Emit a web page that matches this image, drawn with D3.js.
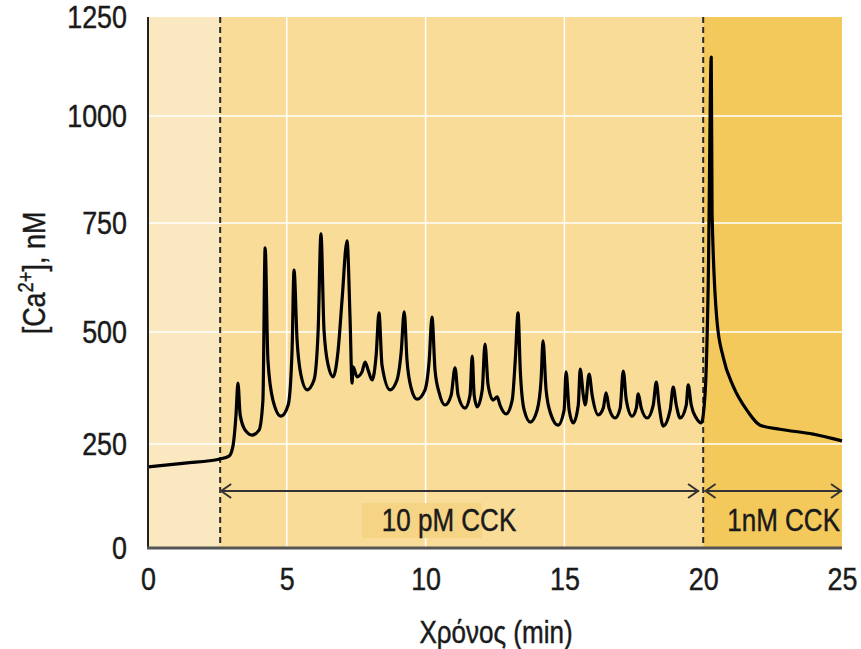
<!DOCTYPE html>
<html>
<head>
<meta charset="utf-8">
<script src="https://cdn.jsdelivr.net/npm/d3@7"></script>
<style>
  body { margin: 0; background: #fff; }
  svg text { font-family: 'Liberation Sans', Arial, sans-serif; fill: #1a1a1a; stroke: #1a1a1a; stroke-width: 0.45px; }
</style>
</head>
<body>
<div id="chart"></div>
<script>
// time (min) and [Ca2+] (nM)
const timeMin = [
    0, 1.33, 2.59, 2.92, 3.06, 3.17, 3.24, 3.32, 3.5, 3.75,
    4.0, 4.14, 4.22, 4.32, 4.5, 4.79, 5.05, 5.19, 5.26, 5.37,
    5.51, 5.73, 5.98, 6.13, 6.23, 6.34, 6.49, 6.67, 6.85, 6.99,
    7.17, 7.28, 7.35, 7.39, 7.53, 7.71, 7.82, 7.93, 8.07, 8.22,
    8.32, 8.43, 8.72, 8.97, 9.12, 9.23, 9.33, 9.48, 9.69, 9.98,
    10.13, 10.23, 10.34, 10.49, 10.7, 10.92, 11.06, 11.17, 11.42, 11.6,
    11.68, 11.75, 11.86, 12.04, 12.14, 12.25, 12.43, 12.58, 12.68, 12.9,
    13.12, 13.23, 13.33, 13.41, 13.55, 13.77, 14.02, 14.16, 14.23, 14.34,
    14.52, 14.77, 14.99, 15.06, 15.17, 15.32, 15.5, 15.57, 15.68, 15.75,
    15.89, 16.0, 16.22, 16.4, 16.5, 16.61, 16.83, 17.01, 17.12, 17.23,
    17.44, 17.59, 17.66, 17.77, 17.98, 18.2, 18.31, 18.41, 18.56, 18.81,
    18.92, 19.03, 19.17, 19.39, 19.46, 19.57, 19.75, 19.93, 20.07, 20.18,
    20.29, 20.32, 20.5, 20.72, 21.08, 21.59, 22.05, 22.77, 23.96, 25.0
];
const caNM = [
    195, 204, 214, 221, 245, 315, 386, 315, 281, 270,
    281, 348, 693, 437, 348, 312, 337, 460, 642, 482,
    404, 371, 393, 505, 725, 505, 426, 400, 460, 573,
    709, 528, 386, 422, 400, 411, 433, 415, 393, 449,
    544, 426, 371, 393, 455, 546, 437, 375, 350, 371,
    437, 534, 415, 364, 337, 359, 420, 359, 330, 359,
    446, 359, 333, 371, 473, 382, 348, 355, 337, 317,
    348, 437, 544, 415, 326, 299, 326, 393, 480, 371,
    315, 292, 326, 411, 326, 297, 337, 417, 359, 337,
    406, 359, 315, 330, 364, 330, 308, 330, 413, 348,
    312, 330, 362, 330, 308, 337, 388, 337, 290, 326,
    377, 337, 308, 337, 382, 337, 308, 297, 364, 606,
    1149, 771, 523, 444, 379, 324, 292, 283, 272, 257
];

const xTicks = [0, 5, 10, 15, 20, 25];
const yTicks = [0, 250, 500, 750, 1000, 1250];
const xGrid = [5, 10, 15];
const yGrid = [250, 500, 750, 1000];

// phases: before stimulus, 10 pM CCK, 1 nM CCK
const phaseStart = [0, 2.6, 20];
const phaseEnd = [2.6, 20, 25];
const phaseColor = ['#f9e8c0', '#f8dc98', '#f4c95c'];
const doseLabels = ['10 pM CCK', '1nM CCK'];

const width = 861, height = 649;
const squeeze = 0.84; // narrow type, like the printed figure

const svg = d3.select('#chart')
    .append('svg')
    .attr('width', width)
    .attr('height', height);

const x = d3.scaleLinear().domain([0, 25]).range([148, 842]);
// the printed axis is not perfectly even, so follow its grid
const y = d3.scaleLinear().domain(yTicks).range([548, 444, 332, 223, 116, 17]);

function narrowText(px, py, str, size, anchor, rotate) {
    return svg.append('text')
        .attr('transform', `translate(${px},${py})${rotate ? ' rotate(' + rotate + ')' : ''} scale(${squeeze},1)`)
        .attr('text-anchor', anchor)
        .style('font-size', size + 'px')
        .text(str);
}

// backgrounds
svg.append('g')
    .selectAll('rect')
    .data(phaseStart)
    .enter()
    .append('rect')
    .attr('x', (d, i) => x(d))
    .attr('y', y(1250))
    .attr('width', (d, i) => x(phaseEnd[i]) - x(d))
    .attr('height', y(0) - y(1250))
    .attr('fill', (d, i) => phaseColor[i]);

// grid
svg.append('g')
    .selectAll('line')
    .data(yGrid)
    .enter()
    .append('line')
    .attr('x1', x(0))
    .attr('x2', x(25))
    .attr('y1', d => y(d))
    .attr('y2', d => y(d))
    .attr('stroke', '#fff')
    .attr('stroke-width', 1.5);

svg.append('g')
    .selectAll('line')
    .data(xGrid)
    .enter()
    .append('line')
    .attr('x1', d => x(d))
    .attr('x2', d => x(d))
    .attr('y1', y(1250))
    .attr('y2', y(0))
    .attr('stroke', '#fff')
    .attr('stroke-width', 1.5);

// label box behind "10 pM CCK"
svg.append('rect')
    .attr('x', 362)
    .attr('y', 503)
    .attr('width', 120)
    .attr('height', 35)
    .attr('fill', '#f6d486');

// dashed markers at the stimulus times
svg.append('g')
    .selectAll('line')
    .data(phaseStart.slice(1))
    .enter()
    .append('line')
    .attr('x1', d => x(d))
    .attr('x2', d => x(d))
    .attr('y1', y(1250))
    .attr('y2', y(0))
    .attr('stroke', '#2a2a2a')
    .attr('stroke-width', 2)
    .attr('stroke-dasharray', '6,4');

// double-headed arrows for the two doses
const arrowY = 491;
const arrowEnds = [[2.6, 19.85], [20.05, 25]];
const arrows = svg.append('g')
    .attr('stroke', '#333')
    .attr('stroke-width', 2)
    .attr('fill', 'none');

arrowEnds.forEach(a => {
    const x1 = x(a[0]), x2 = x(a[1]);
    arrows.append('line')
        .attr('x1', x1).attr('x2', x2)
        .attr('y1', arrowY).attr('y2', arrowY);
    arrows.append('path')
        .attr('d', `M${x1 + 11},${arrowY - 7}L${x1 + 1},${arrowY}L${x1 + 11},${arrowY + 7}`);
    arrows.append('path')
        .attr('d', `M${x2 - 11},${arrowY - 7}L${x2 - 1},${arrowY}L${x2 - 11},${arrowY + 7}`);
});

narrowText(449, 531, doseLabels[0], 31, 'middle');
narrowText(840, 531, doseLabels[1], 31, 'end');

// trace
const trace = timeMin.map((t, i) => [t, caNM[i]]);
const line = d3.line()
    .x(d => x(d[0]))
    .y(d => y(d[1]))
    .curve(d3.curveMonotoneX);

svg.append('path')
    .datum(trace)
    .attr('d', line)
    .attr('fill', 'none')
    .attr('stroke', '#000')
    .attr('stroke-width', 3.2)
    .attr('stroke-linejoin', 'round');

// axes
svg.append('line')
    .attr('x1', x(0)).attr('x2', x(0))
    .attr('y1', y(1250)).attr('y2', y(0))
    .attr('stroke', '#222')
    .attr('stroke-width', 2);

svg.append('line')
    .attr('x1', x(0) - 1).attr('x2', x(25))
    .attr('y1', y(0)).attr('y2', y(0))
    .attr('stroke', '#555')
    .attr('stroke-width', 3);

const yAxis = svg.append('g')
    .attr('transform', `translate(${x(0)},0)`)
    .call(d3.axisLeft(y).tickValues(yTicks).tickFormat(d3.format('d')).tickSize(0).tickPadding(21));
yAxis.select('.domain').remove();
yAxis.selectAll('text')
    .attr('x', -21 / squeeze)
    .attr('transform', `scale(${squeeze},1)`)
    .style('font-size', '32px')
    .attr('fill', '#1a1a1a');

const xAxis = svg.append('g')
    .attr('transform', `translate(0,${y(0)})`)
    .call(d3.axisBottom(x).tickValues(xTicks).tickFormat(d3.format('d')).tickSize(0).tickPadding(19));
xAxis.select('.domain').remove();
xAxis.selectAll('text')
    .attr('transform', `scale(${squeeze},1)`)
    .style('font-size', '32px')
    .attr('fill', '#1a1a1a');

// axis titles
narrowText(496, 643, 'Χρόνος (min)', 31, 'middle');

const yTitle = narrowText(45, 273, '', 32, 'middle', -90);
yTitle.append('tspan').text('[Ca');
yTitle.append('tspan').attr('dy', -12).style('font-size', '22px').text('2+');
yTitle.append('tspan').attr('dy', 12).text('], nM');
</script>
</body>
</html>
